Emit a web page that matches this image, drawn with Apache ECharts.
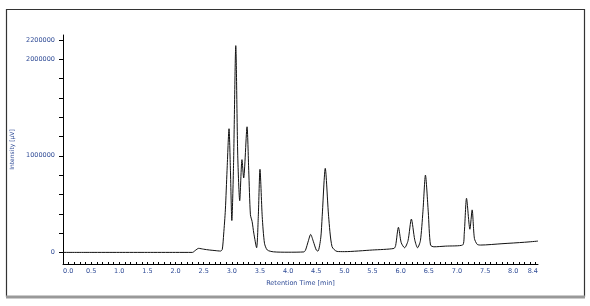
<!DOCTYPE html>
<html>
<head>
<meta charset="utf-8">
<script src="https://cdn.jsdelivr.net/npm/echarts@6/dist/echarts.min.js"></script>
<style>html,body{margin:0;padding:0;background:#fff}#c{width:590px;height:306px}</style>
</head>
<body>
<div id="c"></div>
<script>
// Retention time (min)
const times = [0.00,0.50,1.00,1.50,2.00,2.30,2.35,2.41,2.50,2.60,2.70,2.80,2.83,2.855,2.885,2.915,2.95,2.975,3.00,3.03,3.07,3.105,3.14,3.18,3.21,3.27,3.30,3.33,3.36,3.39,3.44,3.47,3.50,3.54,3.58,3.63,3.74,4.00,4.28,4.31,4.36,4.40,4.45,4.50,4.53,4.58,4.605,4.66,4.72,4.78,4.87,5.00,5.50,5.88,5.91,5.96,6.01,6.07,6.13,6.19,6.25,6.30,6.35,6.395,6.44,6.49,6.53,6.59,6.80,7.10,7.13,7.17,7.23,7.27,7.31,7.36,7.42,7.80,8.20,8.44];
// Intensity (µV)
const intensity = [0,0,0,0,0,0,20000,42000,33000,25000,19000,14000,30000,190000,440000,850000,1280000,850000,330000,900000,2140000,1000000,535000,960000,770000,1300000,850000,390000,320000,200000,48000,370000,860000,370000,95000,25000,6000,2000,5000,25000,120000,186000,110000,25000,13000,150000,370000,870000,370000,60000,10000,8000,25000,41000,70000,260000,100000,48000,120000,345000,130000,48000,120000,420000,800000,420000,76000,58000,65000,76000,200000,560000,240000,440000,145000,83000,76000,90000,105000,117000];
// Tick labels
const xTickValues = [0,0.5,1,1.5,2,2.5,3,3.5,4,4.5,5,5.5,6,6.5,7,7.5,8,8.44];
const xMinorTicks = [0,0.1,0.2,0.3,0.4,0.5,0.6,0.7,0.8,0.9,1,1.1,1.2,1.3,1.4,1.5,1.6,1.7,1.8,1.9,2,2.1,2.2,2.3,2.4,2.5,2.6,2.7,2.8,2.9,3,3.1,3.2,3.3,3.4,3.5,3.6,3.7,3.8,3.9,4,4.1,4.2,4.3,4.4,4.5,4.6,4.7,4.8,4.9,5,5.1,5.2,5.3,5.4,5.5,5.6,5.7,5.8,5.9,6,6.1,6.2,6.3,6.4,6.5,6.6,6.7,6.8,6.9,7,7.1,7.2,7.3,7.4,7.5,7.6,7.7,7.8,7.9,8,8.1,8.2,8.3,8.4];
const yTickLabels = [0,1000000,2000000,2200000];
const yTicks = [0,200000,400000,600000,800000,1000000,1200000,1400000,1600000,1800000,2000000,2200000];

const textColor = '#2f4b96';
const chart = echarts.init(document.getElementById('c'), null, {renderer:'canvas'});
chart.setOption({
  animation:false,
  backgroundColor:'#fff',
  grid:{left:63, right:52, top:35, bottom:42},
  graphic:[
    {type:'rect', shape:{x:6.5,y:9.5,width:578,height:287}, style:{fill:'none', stroke:'#333', lineWidth:1.2}, silent:true, z:-1},
    {type:'line', shape:{x1:6,y1:297,x2:585,y2:297}, style:{stroke:'#999', lineWidth:3}, silent:true, z:-1}
  ],
  xAxis:{
    type:'value', min:0, max:8.44,
    name:'Retention Time [min]', nameLocation:'middle', nameGap:9,
    nameTextStyle:{color:textColor, fontSize:6.5, fontFamily:'DejaVu Sans'},
    axisLine:{show:true, onZero:false, lineStyle:{color:'#000', width:1}},
    axisTick:{show:true, inside:true, length:2, customValues:xMinorTicks, lineStyle:{color:'#000'}},
    axisLabel:{customValues:xTickValues, color:textColor, fontSize:6.5, fontFamily:'DejaVu Sans', margin:4,
      formatter:v=>v.toFixed(1), alignMinLabel:'left', alignMaxLabel:'right'},
    splitLine:{show:false}
  },
  yAxis:{
    type:'value', min:-120000, max:2250000,
    name:'Intensity [µV]', nameLocation:'middle', nameGap:45, nameRotate:90,
    nameTextStyle:{color:textColor, fontSize:6, fontFamily:'DejaVu Sans'},
    axisLine:{show:true, onZero:false, lineStyle:{color:'#000', width:1}},
    axisTick:{show:true, inside:false, length:4, customValues:yTicks, lineStyle:{color:'#000'}},
    axisLabel:{customValues:yTickLabels, color:textColor, fontSize:6.5, fontFamily:'DejaVu Sans', margin:8,
      formatter:v=>String(v)},
    splitLine:{show:false}
  },
  series:[{
    type:'line',
    data: times.map((t,i)=>[t,intensity[i]]),
    showSymbol:false,
    smooth:0.25,
    lineStyle:{color:'#111', width:1},
    clip:true
  }]
});
</script>
</body>
</html>
